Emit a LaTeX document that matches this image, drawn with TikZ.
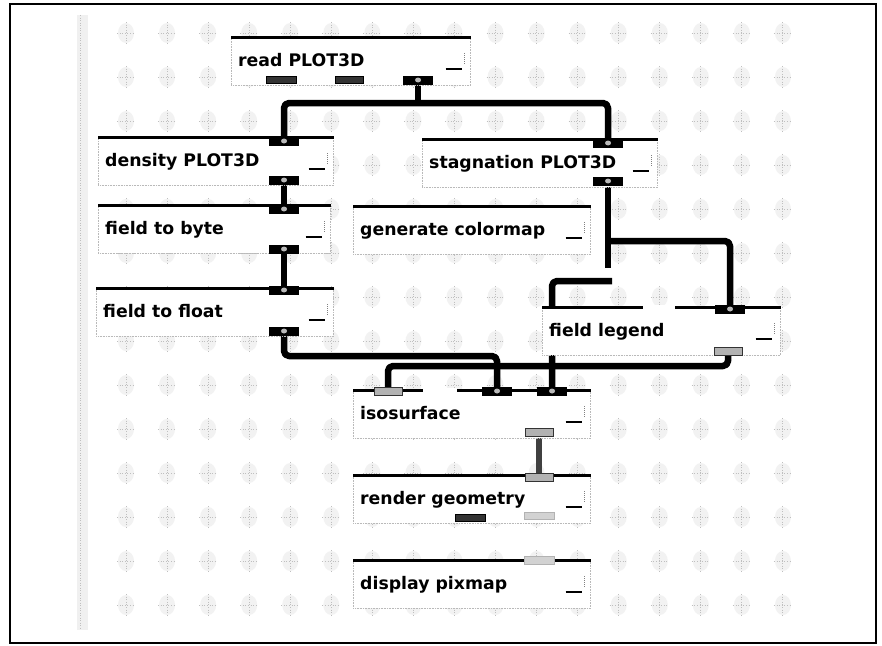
\documentclass[tikz,border=0pt]{standalone}
\usepackage{fontspec}
\newfontfamily\modfont{DejaVu Sans}
\pgfdeclarelayer{bg}
\pgfdeclarelayer{wires}
\pgfsetlayers{bg,wires,main}
\tikzset{
  conn/.style={line width=6.5pt, rounded corners=5pt, line join=round},
  modbox/.style={rectangle, draw=gray!55, densely dotted, line width=0.6pt, fill=white, minimum height=48pt, inner sep=0pt},
  modtext/.style={font=\modfont\bfseries\fontsize{17.3}{20}\selectfont, inner sep=0pt},
  topline/.style={line width=3pt, line cap=butt},
  oport/.style={rectangle, fill=black, minimum width=30pt, minimum height=9pt, inner sep=0pt},
  gport/.style={rectangle, fill=gray!60, draw=black!80, line width=1pt, minimum width=28pt, minimum height=8pt, inner sep=0pt},
  uport/.style={rectangle, fill=black!80, draw=black, line width=0.8pt, minimum width=30pt, minimum height=7pt, inner sep=0pt},
  lport/.style={rectangle, fill=gray!35, draw=gray!60, line width=0.8pt, minimum width=30pt, minimum height=7pt, inner sep=0pt},
  blob/.style={gray!50, line width=1pt, dash pattern=on 1pt off 1.6pt},
}
\newcommand\avsmod[5]{%
  \node[modbox, minimum width=#4pt, anchor=north west] (#1) at (#2,#3) {};
  \node[modtext, anchor=base west] (#1t) at ([xshift=7pt,yshift=-29pt]#1.north west) {#5};
  \draw[topline] (#1.north west) -- (#1.north east);
  \draw[line width=2pt] ([xshift=-25pt,yshift=-32pt]#1.north east) -- ([xshift=-9pt,yshift=-32pt]#1.north east);
  \draw[gray, densely dotted, line width=1pt] ([xshift=-6pt,yshift=-16pt]#1.north east) -- ([xshift=-6pt,yshift=-27pt]#1.north east);
}
\begin{document}
\begin{tikzpicture}[x=1pt,y=-1pt]
\useasboundingbox (0,0) rectangle (882,645);
\begin{pgfonlayer}{bg}
  \fill[white] (0,0) rectangle (882,645);
  \fill[gray!12] (77,15) rectangle (88,630);
  \draw[gray!50, line width=1pt, dash pattern=on 1pt off 1.5pt] (80,15) -- (80,630);
  \foreach \i in {0,...,16}{
    \foreach \j in {0,...,13}{
      \fill[gray!10] ({126+41.06*\i},{33+44*\j}) ellipse (8 and 10);
      \draw[blob] ({126+41.06*\i},{22+44*\j}) -- ({126+41.06*\i},{44+44*\j});
      \draw[blob] ({117+41.06*\i},{33+44*\j}) -- ({135+41.06*\i},{33+44*\j});
    }
  }
  \draw[line width=1.5pt] (10,4) rectangle (876,643);
\end{pgfonlayer}

% modules
\avsmod{rd}{231}{37}{239}{read PLOT3D}
\avsmod{dn}{98}{137}{235}{density PLOT3D}
\avsmod{st}{422}{139}{235}{stagnation PLOT3D}
\avsmod{fb}{98}{205}{232}{field to byte}
\avsmod{gc}{353}{206}{237}{generate colormap}
\avsmod{ff}{96}{288}{237}{field to float}
\avsmod{fl}{542}{307}{238}{field legend}
\avsmod{is}{353}{390}{237}{isosurface}
\avsmod{rg}{353}{475}{237}{render geometry}
\avsmod{dp}{353}{560}{237}{display pixmap}
\draw[white, line width=4pt] (423,390) -- (457,390);
\draw[white, line width=4pt] (643,307) -- (675,307);

% ports
\node[oport] (rdout) at (418,80) {};
\node[uport] (rdp1) at (281,80) {};
\node[uport, minimum width=28pt] (rdp2) at (349,80) {};
\node[oport] (dnin) at (284,141) {};
\node[oport] (dnout) at (284,180) {};
\node[oport] (stin) at (608,143) {};
\node[oport] (stout) at (608,181) {};
\node[oport] (fbin) at (284,209) {};
\node[oport] (fbout) at (284,249) {};
\node[oport] (ffin) at (284,290) {};
\node[oport] (ffout) at (284,331) {};
\node[oport] (flin) at (730,309) {};
\node[gport] (flout) at (728,351) {};
\node[gport] (isin1) at (388,391) {};
\node[oport] (isin2) at (497,391) {};
\node[oport] (isin3) at (552,391) {};
\node[gport] (isout) at (539,432) {};
\node[gport] (rgin) at (539,477) {};
\node[uport] (rgp1) at (470,518) {};
\node[lport] (rgp2) at (539,516) {};
\node[lport, minimum height=8pt] (dpin) at (539,560) {};
\foreach \p in {rdout,dnin,dnout,stin,stout,fbin,fbout,ffin,ffout,flin,isin2,isin3}{
  \fill[gray!55] (\p.center) ellipse (3 and 2.5);
}

% connectors
\begin{pgfonlayer}{wires}
  \coordinate (yA) at (0,103);
  \coordinate (yD) at (0,356);
  \coordinate (yE) at (0,241);
  \coordinate (yEend) at (0,268);
  \coordinate (yF) at (0,281);
  \coordinate (yG) at (0,366);
  \draw[conn] (dnin.center) |- (rdout.center |- yA) -| (stin.center);
  \draw[conn] (rdout.center) -- (rdout.center |- yA);
  \draw[conn] (dnout.center) -- (fbin.center);
  \draw[conn] (fbout.center) -- (ffin.center);
  \draw[conn] (ffout.center) |- (isin2.center |- yD) -- (isin2.center);
  \draw[conn] (stout.center) -- (stout.center |- yEend);
  \draw[conn] (stout.center |- yE) -| (flin.center);
  \draw[conn] ([xshift=4pt]stout.center |- yF) -| (isin3.center);
  \draw[conn] (flout.center) |- (isin1.center |- yG) -- (isin1.center);
  \draw[conn, black!75] (isout.center) -- (rgin.center);
\end{pgfonlayer}
\end{tikzpicture}
\end{document}
